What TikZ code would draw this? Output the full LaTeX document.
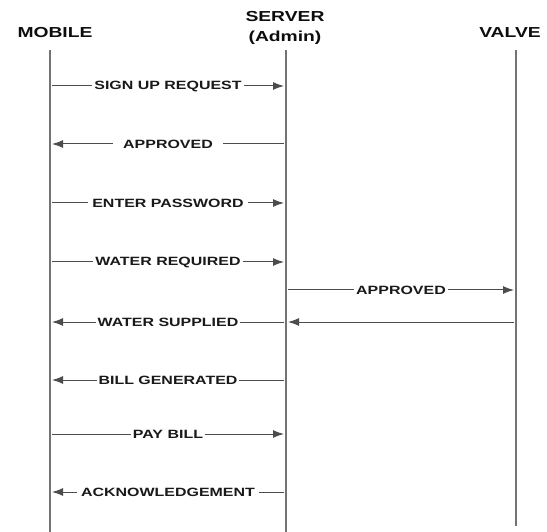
\documentclass[tikz,border=0pt]{standalone}
\usepackage{fontspec}
\setmainfont[FakeStretch=1.33]{Liberation Sans}
\usetikzlibrary{arrows.meta}
\tikzset{
  life/.style={draw=black!55,line width=1.3pt},
  msg/.style={draw=black!70,line width=1pt,-{Latex[length=11pt,width=8pt]}},
  lab/.style={fill=white,inner ysep=1pt,inner xsep=2pt,text=black!90,font=\bfseries\fontsize{12}{13}\selectfont},
  head/.style={align=center,text=black!95,font=\bfseries\fontsize{14.5}{20}\selectfont}
}
\begin{document}
\begin{tikzpicture}[x=1pt,y=-1pt,line join=round]
\useasboundingbox (0,0) rectangle (547,532);
\def\xm{50} % mobile
\def\xs{286} % server
\def\xv{516} % valve
% headings
\node[head] (mob) at (55,33) {MOBILE};
\node[head] (srv) at (285,28) {SERVER\\(Admin)};
\node[head] (vlv) at (510,33) {VALVE};
\path
(\xm,50) coordinate (mtop) (\xm,532) coordinate (mbot)
(\xs,50) coordinate (stop) (\xs,532) coordinate (sbot)
(\xv,50) coordinate (vtop) (\xv,526) coordinate (vbot);
% lifelines
\draw[life] (mtop)--(mbot) (stop)--(sbot) (vtop)--(vbot);
% points on the lifelines
\foreach \n/\y in {1/86,2/144,3/203,4/262,5/290,6/322,7/380,8/434,9/492}{
  \coordinate (m\n) at (\xm+2,\y);
  \coordinate (s\n) at (\xs-2,\y);
  \coordinate (t\n) at (\xs+2,\y);
  \coordinate (v\n) at (\xv-2,\y);
}
% messages
\draw[msg] (m1)--(s1) node[lab,midway] (l1) {SIGN UP REQUEST};
\draw[msg] (s2)--(m2) node[lab,midway,inner xsep=10pt] (l2) {APPROVED};
\draw[msg] (m3)--(s3) node[lab,midway,inner xsep=4pt] (l3) {ENTER PASSWORD};
\draw[msg] (m4)--(s4) node[lab,midway] (l4) {WATER REQUIRED};
\draw[msg] (t5)--(v5) node[lab,midway] (l5) {APPROVED};
\draw[msg] (v6)--(t6);
\draw[msg] (s6)--(m6) node[lab,midway] (l6) {WATER SUPPLIED};
\draw[msg] (s7)--(m7) node[lab,midway] (l7) {BILL GENERATED};
\draw[msg] (m8)--(s8) node[lab,midway] (l8) {PAY BILL};
\draw[msg] (s9)--(m9) node[lab,midway,inner xsep=4pt] (l9) {ACKNOWLEDGEMENT};
\end{tikzpicture}
\end{document}
